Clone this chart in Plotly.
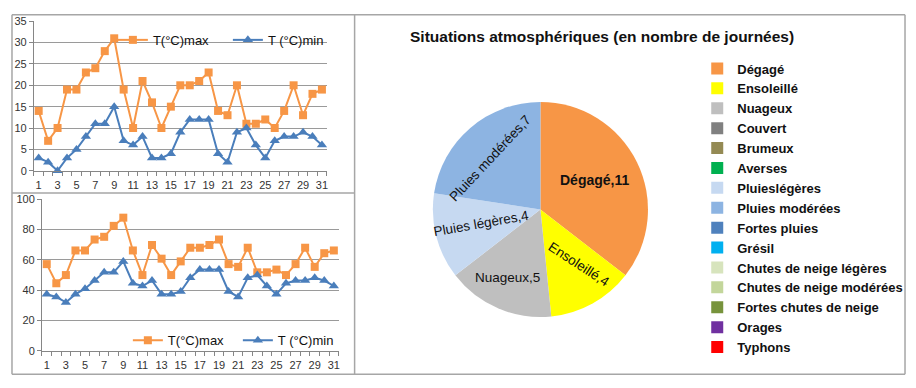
import math
import plotly.graph_objects as go

# ---------------- data ----------------
days = list(range(1, 32))
day_ticks = list(range(1, 32, 2))

tmax_top = [14, 7, 10, 19, 19, 23, 24, 28, 31, 19, 10, 21, 16, 10, 15, 20,
            20, 21, 23, 14, 13, 20, 11, 11, 12, 10, 14, 20, 13, 18, 19]
tmin_top = [3, 2, 0, 3, 5, 8, 11, 11, 15, 7, 6, 8, 3, 3, 4, 9,
            12, 12, 12, 4, 2, 9, 10, 6, 3, 7, 8, 8, 9, 8, 6]

tmax_bot = [57.2, 44.6, 50, 66.2, 66.2, 73.4, 75.2, 82.4, 87.8, 66.2, 50, 69.8,
            60.8, 50, 59, 68, 68, 69.8, 73.4, 57.2, 55.4, 68, 51.8, 51.8, 53.6,
            50, 57.2, 68, 55.4, 64.4, 66.2]
tmin_bot = [37.4, 35.6, 32, 37.4, 41, 46.4, 51.8, 51.8, 59, 44.6, 42.8, 46.4,
            37.4, 37.4, 39.2, 48.2, 53.6, 53.6, 53.6, 39.2, 35.6, 48.2, 50, 42.8,
            37.4, 44.6, 46.4, 46.4, 48.2, 46.4, 42.8]

series_names = ["T(°C)max", "T (°C)min"]

pie_labels = ["Dégagé", "Ensoleillé", "Nuageux", "Couvert", "Brumeux", "Averses",
              "Pluieslégères", "Pluies modérées", "Fortes pluies", "Grésil",
              "Chutes de neige légères", "Chutes de neige modérées",
              "Fortes chutes de neige", "Orages", "Typhons"]
pie_slice_names = ["Dégagé", "Ensoleillé", "Nuageux", "Couvert", "Brumeux", "Averses",
                   "Pluies légères", "Pluies modérées", "Fortes pluies", "Grésil",
                   "Chutes de neige légères", "Chutes de neige modérées",
                   "Fortes chutes de neige", "Orages", "Typhons"]
pie_values = [11, 4, 5, 0, 0, 0, 4, 7, 0, 0, 0, 0, 0, 0, 0]
pie_colors = ["#F79646", "#FFFF00", "#BFBFBF", "#808080", "#948A54", "#00B050",
              "#C6D9F1", "#8DB4E2", "#4F81BD", "#00B0F0", "#D7E4BD", "#C3D69B",
              "#77933C", "#7030A0", "#FF0000"]

title_text = "Situations atmosphériques (en nombre de journées)"

# ---------------- style ----------------
W, H = 916, 388
ORANGE = "#F79646"
BLUE = "#4A7EBB"
GRID = "#9A9A9A"
AXIS = "#868686"
FONT = "Liberation Sans, Arial, sans-serif"
TICKFONT = dict(family=FONT, size=11, color="#333333")

# per-slice label style: (radius fraction, angle offset deg, text angle, size, bold)
label_style = {
    "Dégagé": (0.56, -3, 0, 14, True),
    "Ensoleillé": (0.62, -5, 33, 13.5, False),
    "Nuageux": (0.70, 2, 0, 13.5, False),
    "Pluies légères": (0.55, 1, -10, 13.5, False),
    "Pluies modérées": (0.66, -3, -47, 13.5, False),
}

def px(x):
    return x / W

def py(y):
    return 1 - y / H

fig = go.Figure()

# top chart
fig.add_trace(go.Scatter(x=days, y=tmax_top, name=series_names[0], mode="lines+markers",
                         line=dict(color=ORANGE, width=2),
                         marker=dict(symbol="square", size=8, color=ORANGE),
                         xaxis="x", yaxis="y", legend="legend", cliponaxis=False))
fig.add_trace(go.Scatter(x=days, y=tmin_top, name=series_names[1], mode="lines+markers",
                         line=dict(color=BLUE, width=2),
                         marker=dict(symbol="triangle-up", size=9, color=BLUE),
                         xaxis="x", yaxis="y", legend="legend", cliponaxis=False))
# bottom chart
fig.add_trace(go.Scatter(x=days, y=tmax_bot, name=series_names[0], mode="lines+markers",
                         line=dict(color=ORANGE, width=2),
                         marker=dict(symbol="square", size=8, color=ORANGE),
                         xaxis="x2", yaxis="y2", legend="legend2", cliponaxis=False))
fig.add_trace(go.Scatter(x=days, y=tmin_bot, name=series_names[1], mode="lines+markers",
                         line=dict(color=BLUE, width=2),
                         marker=dict(symbol="triangle-up", size=9, color=BLUE),
                         xaxis="x2", yaxis="y2", legend="legend2", cliponaxis=False))

# pie
pie_cx, pie_cy, pie_r = 541, 210, 111
fig.add_trace(go.Pie(labels=pie_labels, values=pie_values, sort=False,
                     direction="clockwise", rotation=0,
                     marker=dict(colors=pie_colors, line=dict(width=0)),
                     textinfo="none", hoverinfo="label+value",
                     domain=dict(x=[px(pie_cx - pie_r), px(pie_cx + pie_r)],
                                 y=[py(pie_cy + pie_r), py(pie_cy - pie_r)]),
                     legend="legend3"))

# pie slice labels from data
total = sum(pie_values)
cum = 0
annotations = []
for name, v in zip(pie_slice_names, pie_values):
    if v > 0:
        mid = (cum + v / 2) / total * 360
        frac, dth, ang, size, bold = label_style[name]
        th = math.radians(mid + dth)
        lx = pie_cx + pie_r * frac * math.sin(th)
        ly = pie_cy - pie_r * frac * math.cos(th)
        txt = f"{name},{v}"
        if bold:
            txt = f"<b>{txt}</b>"
        annotations.append(dict(x=px(lx), y=py(ly), xref="paper", yref="paper",
                                text=txt, showarrow=False, textangle=ang,
                                font=dict(family=FONT, size=size, color="#111111"),
                                xanchor="center", yanchor="middle"))
    cum += v

annotations.append(dict(x=px(603), y=py(31), xref="paper", yref="paper",
                        text=f"<b>{title_text}</b>", showarrow=False,
                        font=dict(family=FONT, size=15.5, color="#111111"),
                        xanchor="center", yanchor="middle"))

# panel borders
shapes = []
def line(x0, y0, x1, y1, color="#A6A6A6", width=1.5):
    shapes.append(dict(type="line", xref="paper", yref="paper",
                       x0=px(x0), y0=py(y0), x1=px(x1), y1=py(y1),
                       line=dict(color=color, width=width)))

line(12, 9, 906, 9)
line(12, 9, 12, 380)
line(355, 9, 355, 380)
line(906, 9, 906, 380)
line(12, 193, 355, 193)
line(12, 380, 906, 380)

common_x = dict(range=[0.5, 31.5], tickmode="array", tickvals=day_ticks,
                ticks="", showgrid=False, showline=True, linecolor=AXIS, linewidth=1,
                tickfont=TICKFONT, zeroline=False, fixedrange=True,
                minor=dict(ticks="outside", tick0=0.5, dtick=1, ticklen=4,
                           tickcolor=AXIS, showgrid=False))
common_y = dict(showgrid=True, gridcolor=GRID, gridwidth=1, showline=True,
                linecolor=AXIS, ticks="outside", ticklen=4, tickcolor=AXIS,
                tickfont=TICKFONT, zeroline=False, fixedrange=True)

fig.update_layout(
    width=W, height=H, autosize=False,
    margin=dict(l=0, r=0, t=0, b=0),
    paper_bgcolor="white", plot_bgcolor="white",
    xaxis=dict(domain=[px(34), px(327)], anchor="y", ticklabelstandoff=4, **common_x),
    yaxis=dict(domain=[py(170), py(15.7)], anchor="x", range=[0, 35], dtick=5,
               tick0=0, **common_y),
    xaxis2=dict(domain=[px(42), px(339)], anchor="y2", ticklabelstandoff=4, **common_x),
    yaxis2=dict(domain=[py(356), py(199.3)], anchor="x2", range=[0, 100], dtick=20,
                tick0=0, **common_y),
    legend=dict(orientation="h", x=px(113), y=py(35), xanchor="left", yanchor="middle",
                bgcolor="rgba(0,0,0,0)", font=dict(family=FONT, size=13, color="#111111"),
                entrywidth=70, entrywidthmode="pixels"),
    legend2=dict(orientation="h", x=px(128), y=py(345), xanchor="left", yanchor="middle",
                 bgcolor="rgba(0,0,0,0)", font=dict(family=FONT, size=13, color="#111111"),
                 entrywidth=65, entrywidthmode="pixels"),
    legend3=dict(orientation="v", x=px(698), y=py(49), xanchor="left", yanchor="top",
                 bgcolor="rgba(0,0,0,0)",
                 font=dict(family=FONT, size=13, color="#111111", weight="bold"),
                 traceorder="normal"),
    annotations=annotations,
    shapes=shapes,
    showlegend=True,
)

fig.write_html("out.html")
